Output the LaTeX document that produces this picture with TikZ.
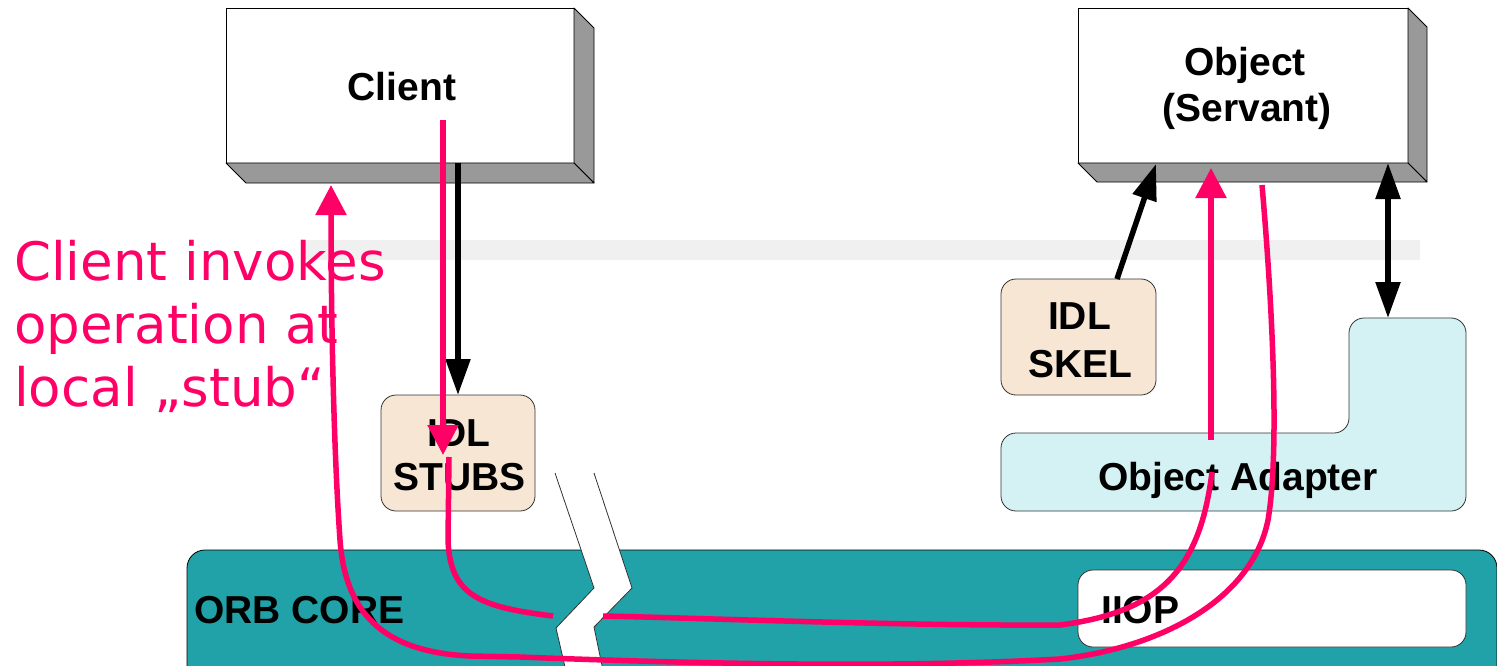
\documentclass[tikz,border=0pt]{standalone}
\usepackage{fontspec}
\setmainfont{Liberation Sans}
\newfontfamily\annotfont{DejaVu Sans}
\usetikzlibrary{arrows.meta}
\definecolor{pinkc}{RGB}{255,0,102}
\definecolor{tealc}{RGB}{33,161,168}
\definecolor{beigec}{RGB}{248,230,212}
\definecolor{cyanc}{RGB}{212,242,244}
\definecolor{shadec}{RGB}{153,153,153}
\definecolor{bandc}{RGB}{240,240,240}
\begin{document}
\begin{tikzpicture}[x=1pt,y=-1pt,
  lbl/.style={font=\bfseries\fontsize{39}{44}\selectfont, inner sep=0pt, anchor=base},
  annot/.style={font=\annotfont\fontsize{53}{63}\selectfont, text=pinkc, inner sep=0pt, anchor=base west},
  frontbox/.style={draw=black, line width=0.8pt, fill=white, rectangle, inner sep=0pt, outer sep=0pt},
  shade3d/.style={draw=black, line width=0.8pt, fill=shadec, line join=round},
  softbox/.style={draw=black!80, line width=0.8pt, rectangle, rounded corners=15pt, inner sep=0pt, outer sep=0pt},
  blk/.style={line width=5.5pt, draw=black, -{Triangle[length=36pt,width=24pt]}},
  blkboth/.style={line width=5.5pt, draw=black, {Triangle[length=36pt,width=24pt]}-{Triangle[length=36pt,width=24pt]}},
  pinkline/.style={line width=5.5pt, draw=pinkc},
  pinkarrow/.style={line width=5.5pt, draw=pinkc, -{Triangle[length=30pt,width=30pt]}}
]
\useasboundingbox (0,0) rectangle (1497,666);

% background band
\fill[bandc] (305,240) rectangle (1420,260);

% ORB core
\begin{scope}
\clip (0,0) rectangle (1497,666);
\draw[fill=tealc, draw=black, line width=0.8pt, rounded corners=18pt] (187,550) rectangle (1497,700);
\end{scope}
\node[softbox, fill=white, minimum width=388pt, minimum height=77pt] (iiop) at (1272,608.5) {};
\node[lbl, anchor=base west] (orbtext) at (194,623) {ORB CORE};
\node[lbl, anchor=base west] (iioptext) at (1101,623) {IIOP};

% break
\fill[white] (555,473) -- (594,588) -- (556,628) -- (568,680) -- (605,680) -- (594,627) -- (632,588) -- (594,473) -- cycle;
\draw[black!80, line width=0.8pt, line join=miter] (555,473) -- (594,588) -- (556,628) -- (568,680);
\draw[black!80, line width=0.8pt, line join=miter] (594,473) -- (632,588) -- (594,627) -- (605,680);

% client box
\node[frontbox, minimum width=348pt, minimum height=155pt] (client) at (400,85.5) {};
\draw[shade3d] (client.north east) -- ++(20,20) -- ++(0,155) -- (client.south east) -- cycle;
\draw[shade3d] (client.south west) -- ++(20,20) -- ++(348,0) -- (client.south east) -- cycle;
\node[lbl] (clienttext) at (402,101) {Client};

% object box
\node[frontbox, minimum width=330pt, minimum height=155pt] (object) at (1243,85.5) {};
\draw[shade3d] (object.north east) -- ++(19,19) -- ++(0,155) -- (object.south east) -- cycle;
\draw[shade3d] (object.south west) -- ++(19,19) -- ++(330,0) -- (object.south east) -- cycle;
\node[lbl] (objtext1) at (1245,76) {Object};
\node[lbl] (objtext2) at (1247,122) {(Servant)};

% stubs
\node[softbox, fill=beigec, minimum width=154pt, minimum height=116pt] (stubs) at (458,453) {};
\node[lbl] (stubs1) at (459,446) {IDL};
\node[lbl] (stubs2) at (459.5,490) {STUBS};

% skel
\node[softbox, fill=beigec, minimum width=155pt, minimum height=116pt] (skel) at (1078.5,337) {};
\node[lbl] (skel1) at (1079.5,329) {IDL};
\node[lbl] (skel2) at (1080.5,377) {SKEL};

% object adapter
\draw[draw=black!80, line width=0.8pt, fill=cyanc, rounded corners=15pt]
  (1001,433) -- (1349,433) -- (1349,318) -- (1466,318) -- (1466,511) -- (1001,511) -- cycle;
\node[lbl] (oatext) at (1238,490) {Object Adapter};
\coordinate (oatop) at (1388,318);

% annotation
\node[annot] (ann1) at (14,280) {Client invokes};
\node[annot] (ann2) at (14,343) {operation at};
\node[annot] (ann3) at (14,406) {local „stub“};

% black arrows
\draw[blk] (client.south -| stubs.north) -- (stubs.north);
\coordinate (skelout) at (1117,279);
\coordinate (objin) at (1156,164);
\draw[blk] (skelout) -- (objin);
\draw[blkboth] (oatop |- object.south) -- (oatop);

% pink paths
\coordinate (pA1) at (443,120);
\coordinate (pA2) at (443,455);
\draw[pinkarrow] (pA1) -- (pA2);

\coordinate (pB1) at (449,457);
\coordinate (pB2) at (553,616);
\draw[pinkline] (pB1) -- (448,540) .. controls (450,596) and (480,607) .. (pB2);

\coordinate (pC1) at (603,616);
\coordinate (pC2) at (1212,472);
\draw[pinkline] (pC1) .. controls (700,618) and (900,626) .. (1060,625)
  .. controls (1160,612) and (1200,570) .. (pC2);

\coordinate (pD1) at (1211,440);
\coordinate (pD2) at (1211,168);
\draw[pinkarrow] (pD1) -- (pD2);

\coordinate (pE1) at (1262,185);
\coordinate (pE2) at (331,185);
\draw[pinkarrow] (pE1) .. controls (1272,300) and (1280,450) .. (1268,520)
  .. controls (1252,600) and (1160,648) .. (1060,659)
  .. controls (900,668) and (700,664) .. (520,657)
  -- (470,656) .. controls (380,652) and (345,610) .. (340,540)
  .. controls (333,440) and (331,300) .. (pE2);
\end{tikzpicture}
\end{document}
